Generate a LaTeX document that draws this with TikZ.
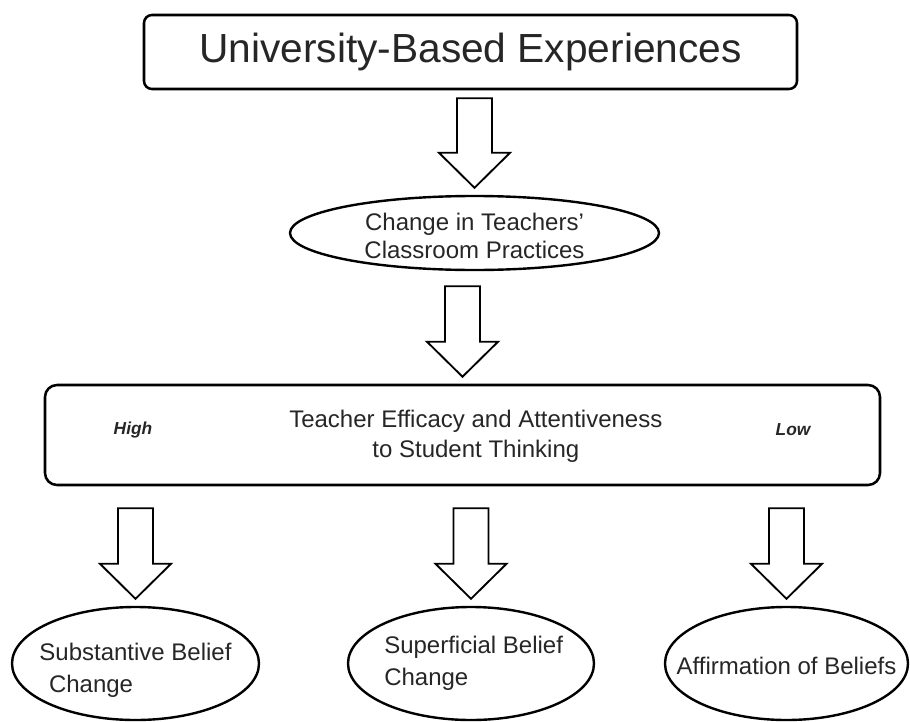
\documentclass[tikz,border=0pt]{standalone}
\usepackage{fontspec}
\setmainfont{Liberation Sans}
\usepackage{tikz}
\usetikzlibrary{shapes.geometric,calc}

\begin{document}
\begin{tikzpicture}[x=0.75pt,y=-0.75pt,
  box/.style={draw,rounded corners=6pt,line width=1.9pt,inner sep=0pt,align=center,text=black!85},
  oval/.style={draw,ellipse,line width=1.8pt,inner sep=0pt},
  lbl/.style={font=\fontsize{18}{24}\selectfont,align=left,text=black!85},
  side/.style={font=\fontsize{13}{15}\selectfont\bfseries\itshape,text=black!85},
  hollow/.style={draw,line width=1.4pt,line join=miter}]
\newcommand{\blockarrow}[3]{
  \coordinate (tip) at ($(#2.north)+(0,-7)$);
  \draw[hollow] ($(#1.south -| tip)+(-17.5,#3)$) -- ($(tip)+(-17.5,-35)$) -- ($(tip)+(-35.5,-35)$) -- (tip)
    -- ($(tip)+(35.5,-35)$) -- ($(tip)+(17.5,-35)$) -- ($(#1.south -| tip)+(17.5,#3)$) -- cycle;
}
\useasboundingbox (0,0) rectangle (910,721);
\node[box,minimum width=489.75pt,minimum height=55.5pt,font=\fontsize{30.5}{36}\selectfont] (ube) at (470.5,52) {University-Based Experiences};
\node[oval,minimum width=276.75pt,minimum height=55.5pt,
  label={[lbl,align=center,font=\fontsize{18}{21}\selectfont,yshift=-2pt]center:Change in Teachers'\\Classroom Practices}] (ctp) at (474.5,233) {};
\node[box,rounded corners=9pt,minimum width=626.25pt,minimum height=75pt,
  label={[lbl,align=center,font=\fontsize{18}{22.5}\selectfont,xshift=10pt,yshift=-1pt]center:Teacher Efficacy and Attentiveness\\to Student Thinking}] (tes) at (462.5,435) {};
\node[side] (high) at (133,430) {High};
\node[side] (low) at (793,430) {Low};
\node[oval,minimum width=185.25pt,minimum height=84.75pt,
  label={[lbl,yshift=-5pt]center:Substantive Belief\\\hspace*{0.4em}Change}] (sbc) at (135.5,663.5) {};
\node[oval,minimum width=184.5pt,minimum height=84.75pt,
  label={[lbl,xshift=2pt]center:Superficial Belief\\Change}] (sfc) at (471,663.5) {};
\node[oval,minimum width=182.25pt,minimum height=84.75pt,
  label={[lbl,yshift=-2pt]center:Affirmation of Beliefs}] (aob) at (786.5,663.5) {};
\blockarrow{ube}{ctp}{8}
\blockarrow{ctp}{tes}{15}
\foreach \o in {sbc,sfc,aob} {\blockarrow{tes}{\o}{22}}
\end{tikzpicture}
\end{document}
